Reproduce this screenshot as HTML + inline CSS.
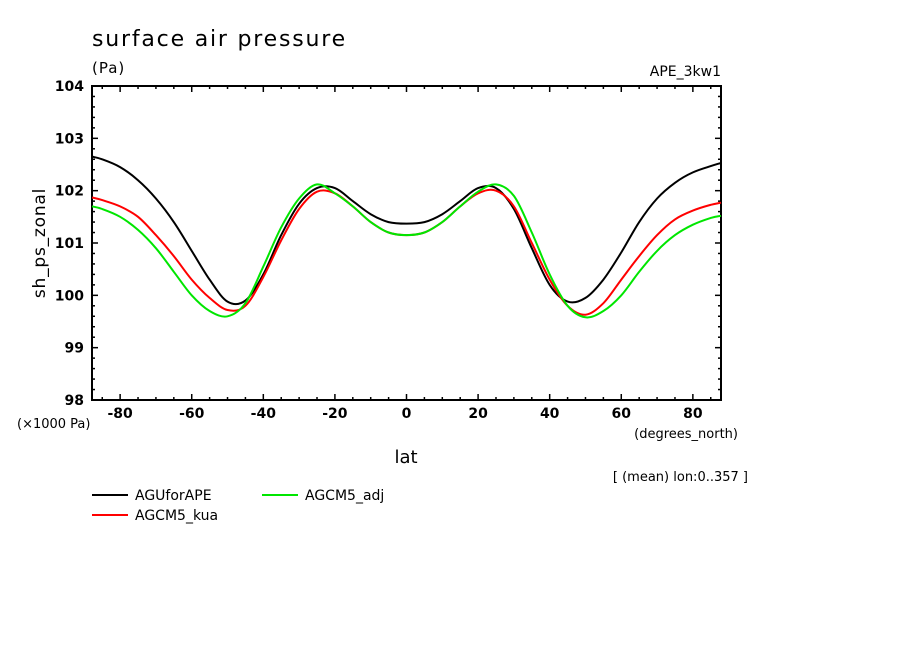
<!DOCTYPE html>
<html><head><meta charset="utf-8"><style>
html,body{margin:0;padding:0;background:#fff;}
svg{display:block;font-family:"DejaVu Sans","Liberation Sans",sans-serif;}
</style></head><body>
<svg id="chart" width="904" height="654" viewBox="0 0 904 654" xmlns="http://www.w3.org/2000/svg">
<rect width="904" height="654" fill="#fff"/>
<text x="92" y="46" font-size="22" letter-spacing="1.8">surface air pressure</text>
<text x="92" y="73" font-size="15" letter-spacing="1">(Pa)</text>
<text x="721" y="76" font-size="14" text-anchor="end">APE_3kw1</text>
<text transform="translate(45,243) rotate(-90)" font-size="17" text-anchor="middle" letter-spacing="0.8">sh_ps_zonal</text>
<text x="406" y="463" font-size="18" text-anchor="middle">lat</text>
<text x="17" y="428" font-size="13">(×1000 Pa)</text>
<text x="738" y="438" font-size="13" text-anchor="end">(degrees_north)</text>
<text x="748" y="481" font-size="13" text-anchor="end">[ (mean) lon:0..357 ]</text>
<g id="axes"></g>
<g id="series"></g>
<g>
<line x1="92" y1="495" x2="128" y2="495" stroke="#000" stroke-width="2"/>
<text x="135" y="500" font-size="14">AGUforAPE</text>
<line x1="262" y1="495" x2="298" y2="495" stroke="#00e600" stroke-width="2"/>
<text x="305" y="500" font-size="14">AGCM5_adj</text>
<line x1="92" y1="515" x2="128" y2="515" stroke="#ff0000" stroke-width="2"/>
<text x="135" y="520" font-size="14">AGCM5_kua</text>
</g>
</svg>
<script>
const lats = [-87.86,-85,-80,-75,-70,-65,-60,-55,-50,-45,-40,-35,-30,-25,-20,-15,-10,-5,0,5,10,15,20,25,30,35,40,45,50,55,60,65,70,75,80,85,87.86];
const aguforape = [102.65,102.6,102.45,102.2,101.85,101.4,100.85,100.3,99.88,99.9,100.4,101.15,101.75,102.05,102.05,101.8,101.55,101.4,101.37,101.4,101.55,101.8,102.05,102.05,101.65,100.9,100.2,99.88,99.95,100.3,100.82,101.4,101.85,102.15,102.35,102.47,102.53];
const agcm5_kua = [101.87,101.82,101.7,101.5,101.15,100.75,100.3,99.95,99.72,99.8,100.35,101.05,101.65,101.98,101.95,101.7,101.4,101.2,101.15,101.2,101.4,101.7,101.95,102.0,101.7,101.0,100.3,99.8,99.63,99.85,100.3,100.75,101.15,101.45,101.62,101.73,101.77];
const agcm5_adj = [101.7,101.65,101.5,101.25,100.9,100.45,100.0,99.7,99.6,99.85,100.55,101.3,101.85,102.12,101.95,101.7,101.4,101.2,101.15,101.2,101.4,101.7,101.98,102.12,101.9,101.2,100.4,99.8,99.58,99.7,100.0,100.45,100.85,101.15,101.35,101.48,101.52];
const xTicks = [-80,-60,-40,-20,0,20,40,60,80];
const yTicks = [98,99,100,101,102,103,104];

const L=92,R=721,T=86,B=400, XMIN=-87.86, XMAX=87.86, YMIN=98, YMAX=104;
function xs(v){return L+(v-XMIN)/(XMAX-XMIN)*(R-L);}
function ys(v){return B-(v-YMIN)/(YMAX-YMIN)*(B-T);}
const NS="http://www.w3.org/2000/svg";
function mk(tag,attrs,parent){const e=document.createElementNS(NS,tag);for(const k in attrs)e.setAttribute(k,attrs[k]);parent.appendChild(e);return e;}
const ax=document.getElementById('axes');
const frame=mk('rect',{x:L,y:T,width:R-L,height:B-T,fill:'none',stroke:'#000','stroke-width':2},ax);


for(let v=-85;v<=85;v+=5){
  const x=xs(v), major=(v%20===0), len=major?6:3;
  mk('line',{x1:x,y1:B,x2:x,y2:B-len,stroke:'#000','stroke-width':1.5},ax);
  mk('line',{x1:x,y1:T,x2:x,y2:T+len,stroke:'#000','stroke-width':1.5},ax);
}
for(let i=0;i<=30;i++){
  const v=98+i*0.2, y=ys(v), major=(i%5===0), len=major?6:3;
  mk('line',{x1:L,y1:y,x2:L+len,y2:y,stroke:'#000','stroke-width':1.5},ax);
  mk('line',{x1:R,y1:y,x2:R-len,y2:y,stroke:'#000','stroke-width':1.5},ax);
}
xTicks.forEach(v=>{
  const t=mk('text',{x:xs(v),y:B+18,'font-size':14,'font-weight':'bold','text-anchor':'middle'},ax);
  t.textContent=String(v);
  
  
});
yTicks.forEach(v=>{
  const t=mk('text',{x:L-8,y:ys(v)+5,'font-size':14,'font-weight':'bold','text-anchor':'end'},ax);
  t.textContent=String(v);
  
  
});
const sg=document.getElementById('series');
function line(vals,color,name){
  const P=vals.map((v,i)=>[xs(lats[i]),ys(v)]);
  let d='M'+P[0][0].toFixed(1)+' '+P[0][1].toFixed(1);
  for(let i=0;i<P.length-1;i++){
    const p0=P[Math.max(0,i-1)],p1=P[i],p2=P[i+1],p3=P[Math.min(P.length-1,i+2)];
    const c1=[p1[0]+(p2[0]-p0[0])/6,p1[1]+(p2[1]-p0[1])/6];
    const c2=[p2[0]-(p3[0]-p1[0])/6,p2[1]-(p3[1]-p1[1])/6];
    d+=' C'+c1[0].toFixed(1)+' '+c1[1].toFixed(1)+' '+c2[0].toFixed(1)+' '+c2[1].toFixed(1)+' '+p2[0].toFixed(1)+' '+p2[1].toFixed(1);
  }
  const p=mk('path',{d:d,fill:'none',stroke:color,'stroke-width':2,'stroke-linejoin':'round'},sg);
  
  
}
line(aguforape,'#000','series-aguforape');
line(agcm5_kua,'#ff0000','series-agcm5-kua');
line(agcm5_adj,'#00e600','series-agcm5-adj');
</script>
</body></html>
